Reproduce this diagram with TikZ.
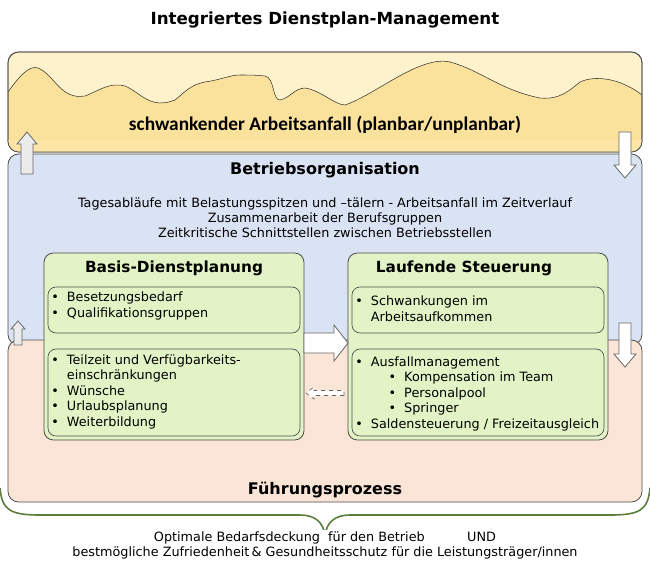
\documentclass[tikz,border=0pt]{standalone}
\usepackage{fontspec}
\setmainfont{DejaVu Sans}
\newfontfamily\calfont{Carlito}
\definecolor{yl}{HTML}{FEF2CC}
\definecolor{yd}{HTML}{FBE29C}
\definecolor{bl}{HTML}{DAE3F3}
\definecolor{pc}{HTML}{FBE5D6}
\definecolor{gr}{HTML}{E2F4C6}
\definecolor{brc}{HTML}{5E7D3C}
\newcommand\fatarr[8]{\draw[#1,shift={(#2,#3)},rotate=#4] (-#5/2,-#6/2) -- (#5/2-#8,-#6/2) -- (#5/2-#8,-#7/2) -- (#5/2,0) -- (#5/2-#8,#7/2) -- (#5/2-#8,#6/2) -- (-#5/2,#6/2) -- cycle;}
\tikzset{x=0.75pt,y=-0.75pt,
 band/.style={draw=black!70,rounded corners=8pt,line width=0.6pt},
 gbox/.style={draw=black!70,fill=gr,rounded corners=7pt,line width=0.6pt},
 ibox/.style={draw=black!70,fill=gr,rounded corners=6pt,line width=0.5pt},
 arw/.style={draw=black!60,fill=white,line width=0.6pt,line join=miter},
 garw/.style={arw,fill=black!8},
 head/.style={font=\bfseries\fontsize{11.5}{14}\selectfont},
 txt/.style={font=\fontsize{9.6}{11.3}\selectfont,align=center},
 lst/.style={font=\fontsize{9.6}{11.7}\selectfont,align=left,anchor=north west,inner sep=0pt}}
\begin{document}
\begin{tikzpicture}
\useasboundingbox (0,0) rectangle (650,572);
\node[font=\bfseries\fontsize{12.5}{14}\selectfont] (title) at (325,20) {Integriertes Dienstplan-Management};
% yellow band
\draw[band,fill=yl] (8,52) rectangle (642,152);
\begin{scope}
\clip[rounded corners=8pt] (8,52) rectangle (642,152);
\fill[yd,draw=black!80,line width=0.4pt] (8,92) .. controls (20,75) and (30,65) .. (38,68)
 .. controls (55,75) and (60,100) .. (85,96) .. controls (100,90) and (110,82) .. (125,86)
 .. controls (140,92) and (150,110) .. (175,100) .. controls (185,92) and (190,85) .. (205,82)
 .. controls (220,80) and (230,75) .. (240,75) .. controls (250,75) and (255,75) .. (265,76)
 .. controls (275,78) and (272,100) .. (280,100) .. controls (290,98) and (295,88) .. (305,88)
 .. controls (320,90) and (335,105) .. (345,105) .. controls (375,95) and (420,55) .. (450,62)
 .. controls (480,70) and (500,90) .. (540,98) .. controls (560,100) and (570,90) .. (580,82)
 .. controls (595,75) and (620,78) .. (642,95) -- (642,160) -- (8,160) -- cycle;
\fill[yd!80!yl] (8,140) rectangle (642,152);
\end{scope}
\draw[band] (8,52) rectangle (642,152);
\node[font=\calfont\bfseries\fontsize{14.5}{16}\selectfont] (arb) at (325,125) {schwankender Arbeitsanfall (planbar/unplanbar)};
% blue band
\draw[band,fill=bl] (8,154) rectangle (642,345);
\node[font=\bfseries\fontsize{12}{14}\selectfont] (bo) at (325,170) {Betriebsorganisation};
\node[txt] (botxt) at (325,218) {Tagesabläufe mit Belastungsspitzen und –tälern - Arbeitsanfall im Zeitverlauf\\Zusammenarbeit der Berufsgruppen\\Zeitkritische Schnittstellen zwischen Betriebsstellen};
% peach band
\draw[band,fill=pc] (8,340) rectangle (642,502);
\node[font=\bfseries\fontsize{12}{14}\selectfont] (fp) at (325,490) {Führungsprozess};
% green boxes
\draw[gbox] (44,253) rectangle (304,440);
\node[head] (bd) at (174,268) {Basis-Dienstplanung};
\draw[ibox] (48,287) rectangle (300,333);
\draw[ibox] (48,349) rectangle (300,436);
\draw[gbox] (348,253) rectangle (608,440);
\node[head] (ls) at (464,268) {Laufende Steuerung};
\draw[ibox] (352,287) rectangle (604,333);
\draw[ibox] (352,349) rectangle (604,436);
\node[lst] (l1) at (51,292) {•\ \ Besetzungsbedarf\\•\ \ Qualifikationsgruppen};
\node[lst] (l2) at (51,354) {•\ \ Teilzeit und Verfügbarkeits-\\\phantom{•\ \ }einschränkungen\\•\ \ Wünsche\\•\ \ Urlaubsplanung\\•\ \ Weiterbildung};
\node[lst] (r1) at (355,296) {•\ \ Schwankungen im\\\phantom{•\ \ }Arbeitsaufkommen};
\node[lst] (r2) at (355,356) {•\ \ Ausfallmanagement\\\hspace{2.6em}•\ \ Kompensation im Team\\\hspace{2.6em}•\ \ Personalpool\\\hspace{2.6em}•\ \ Springer\\•\ \ Saldensteuerung / Freizeitausgleich};
% arrows
\fatarr{arw}{326}{343}{0}{44}{20}{36}{14}
\fatarr{arw,dashed,line width=0.5pt}{325}{393}{180}{38}{5}{12}{8}
\fatarr{garw}{27}{153}{90}{42}{12}{20}{12}
\fatarr{arw}{625}{155}{270}{46}{12}{22}{13}
\fatarr{arw}{625}{345}{270}{44}{12}{22}{13}
\fatarr{garw}{18}{333}{90}{24}{8}{14}{8}
% brace
\coordinate (bL) at (0,488);
\coordinate (bM) at (325,535);
\coordinate (bR) at (650,488);
\draw[brc,line width=1.2pt] (bL) .. controls (2,510) and (10,515) .. (40,515) -- (300,515) .. controls (315,515) and (323,522) .. (bM);
\draw[brc,line width=1.2pt] (bR) .. controls (648,510) and (640,515) .. (610,515) -- (350,515) .. controls (335,515) and (327,522) .. (bM);
\node[txt,fill=white,inner sep=1pt] (b1) at (325,538) {Optimale Bedarfsdeckung \ für den Betrieb \qquad\quad UND};
\node[txt] (b2) at (325,553) {bestmögliche Zufriedenheit\,\&\ Gesundheitsschutz für die Leistungsträger/innen};
\end{tikzpicture}
\end{document}
